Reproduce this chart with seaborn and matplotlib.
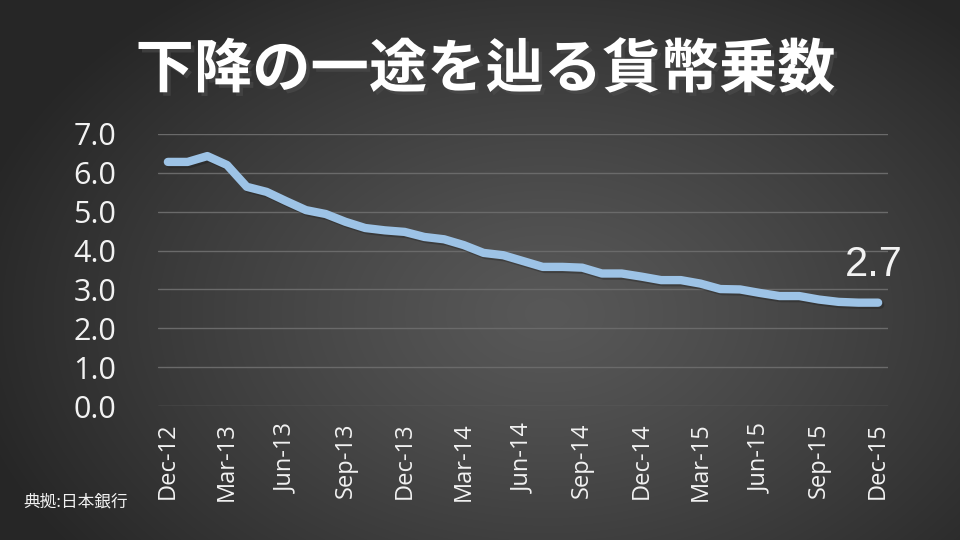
"""Money multiplier (貨幣乗数) trend, Dec-2012 to Dec-2015, on a dark slide background."""

import matplotlib

matplotlib.use("Agg")

import matplotlib.patheffects as pe
import matplotlib.pyplot as plt
import numpy as np
import pandas as pd
import seaborn as sns

# -----------------------------------------------------------------------------
# Data
# -----------------------------------------------------------------------------

months = pd.date_range("2012-12-01", "2015-12-01", freq="MS").strftime("%b-%y").tolist()
multiplier = [
    6.28, 6.28, 6.43, 6.20, 5.64, 5.51, 5.27, 5.04, 4.94, 4.74, 4.58, 4.52, 4.48,
    4.35, 4.29, 4.14, 3.94, 3.88, 3.73, 3.58, 3.58, 3.56, 3.41, 3.41, 3.33,
    3.24, 3.24, 3.15, 3.01, 3.00, 2.91, 2.83, 2.83, 2.74, 2.68, 2.66, 2.66,
]
y_ticks = [0.0, 1.0, 2.0, 3.0, 4.0, 5.0, 6.0, 7.0]
title = "下降の一途を辿る貨幣乗数"
source = "典拠:日本銀行"

LINE_COLOR = "#9dc3e6"
TEXT_COLOR = "#f2f2f2"


def radial_background(fig: plt.Figure) -> None:
    h, w = 540, 960
    yy, xx = np.mgrid[0:h, 0:w]
    cx, cy = 0.57 * w, 0.58 * h
    r = np.sqrt(((xx - cx) / (0.62 * w)) ** 2 + ((yy - cy) / (0.75 * h)) ** 2)
    r = np.clip(r, 0, 1)
    inner, outer = 0x58 / 255, 0x26 / 255
    shade = inner + (outer - inner) * r ** 1.2
    img = np.dstack([shade, shade, shade])
    bg = fig.add_axes([0, 0, 1, 1], zorder=-10)
    bg.imshow(img, aspect="auto", extent=(0, 1, 0, 1))
    bg.set_axis_off()


def main() -> None:
    sns.set_theme(style="dark")
    plt.rcParams["font.family"] = ["Open Sans", "Noto Sans CJK JP", "DejaVu Sans"]

    fig = plt.figure(figsize=(9.6, 5.4), dpi=100)
    radial_background(fig)

    ax = fig.add_axes([0.1646, 0.248, 0.7604, 0.504])
    ax.set_facecolor("none")

    df = pd.DataFrame({"pos": np.arange(len(months)), "month": months, "value": multiplier})
    sns.lineplot(
        data=df,
        x="pos",
        y="value",
        ax=ax,
        color=LINE_COLOR,
        linewidth=6,
        solid_capstyle="round",
        solid_joinstyle="round",
        path_effects=[pe.SimpleLineShadow(offset=(1.5, -1.5), alpha=0.35), pe.Normal()],
        zorder=3,
    )

    ax.set_xlim(-0.5, len(months) - 0.5)
    ax.set_ylim(y_ticks[0], y_ticks[-1])
    ax.set_yticks(y_ticks)
    ax.set_yticklabels([f"{t:.1f}" for t in y_ticks], fontsize=22, color=TEXT_COLOR)
    tick_pos = df["pos"][::3]
    ax.set_xticks(tick_pos)
    ax.set_xticklabels(df["month"][::3], rotation=90, fontsize=17, color=TEXT_COLOR)
    ax.tick_params(axis="both", length=0)
    ax.tick_params(axis="y", pad=30)
    ax.tick_params(axis="x", pad=12)

    ax.grid(axis="y", color="#6a6a6a", linewidth=1)
    ax.grid(axis="x", visible=False)
    for spine in ax.spines.values():
        spine.set_visible(False)
    ax.set_xlabel("")
    ax.set_ylabel("")

    ax.annotate(
        f"{multiplier[-1]:.1f}",
        xy=(df["pos"].iloc[-1], multiplier[-1]),
        xytext=(-33, 27),
        textcoords="offset pixels",
        ha="left",
        va="baseline",
        fontsize=30,
        family=["Liberation Sans", "DejaVu Sans"],
        color=TEXT_COLOR,
    )

    fig.text(
        0.506,
        0.87,
        title,
        ha="center",
        va="center",
        fontsize=42,
        fontweight="bold",
        family=["Noto Sans CJK JP", "DejaVu Sans"],
        color="white",
        path_effects=[pe.withSimplePatchShadow(offset=(2.5, -2.5), alpha=0.6)],
    )
    fig.text(
        0.024,
        0.07,
        source,
        ha="left",
        va="center",
        fontsize=12,
        family=["Noto Sans CJK JP", "DejaVu Sans"],
        color=TEXT_COLOR,
    )

    fig.savefig("out.png", dpi=100)


if __name__ == "__main__":
    main()
